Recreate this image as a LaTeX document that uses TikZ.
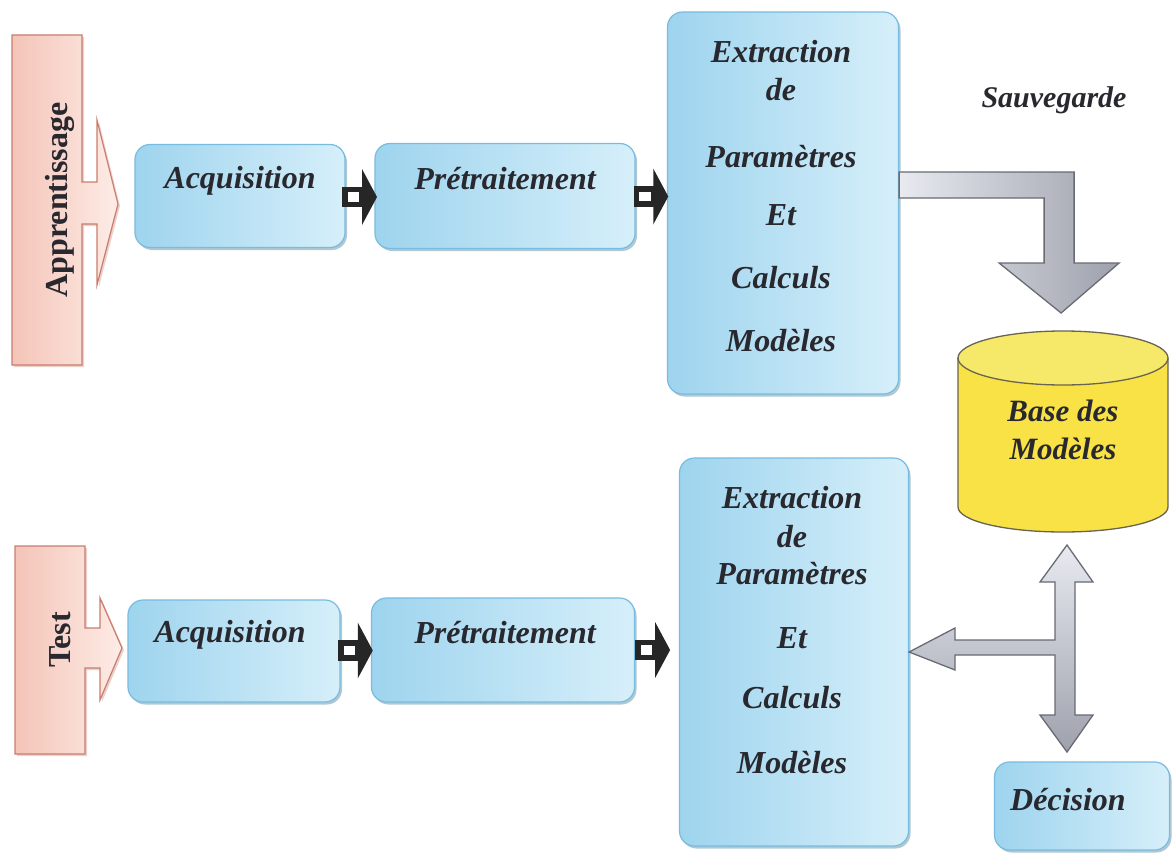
\documentclass[tikz,border=0pt]{standalone}
\usepackage{fontspec}
\setmainfont{Liberation Serif}
\usetikzlibrary{calc,shadows}
\definecolor{boxA}{RGB}{158,212,238}
\definecolor{boxB}{RGB}{214,239,250}
\definecolor{boxline}{RGB}{120,188,224}
\definecolor{pinkA}{RGB}{244,196,184}
\definecolor{pinkB}{RGB}{253,236,230}
\definecolor{pinkline}{RGB}{200,125,110}
\definecolor{greyA}{RGB}{232,234,240}
\definecolor{greyB}{RGB}{158,160,172}
\definecolor{greyline}{RGB}{105,107,116}
\definecolor{cylfill}{RGB}{248,226,70}
\definecolor{cyltop}{RGB}{246,232,105}
\definecolor{cylline}{RGB}{105,100,80}
\definecolor{txt}{RGB}{40,40,46}
\tikzset{
  bluebox/.style={draw=boxline, line width=1.2pt, rounded corners=15pt,
    left color=boxA, right color=boxB,
    drop shadow={opacity=0.45, shadow xshift=2pt, shadow yshift=-2.5pt, fill=boxline!70!black}},
  lbl/.style={font=\fontsize{32}{34}\selectfont\bfseries\itshape, text=txt, inner sep=0pt},
  side/.style={font=\fontsize{32}{34}\selectfont\bfseries, text=txt, rotate=90, inner sep=0pt},
  pinkshape/.style={draw=pinkline, line width=1.2pt, left color=pinkA, right color=pinkB,
    drop shadow={opacity=0.35, shadow xshift=2pt, shadow yshift=-2pt, fill=pinkline}},
  greyshape/.style={draw=greyline, line width=1.3pt, left color=greyA, right color=greyB},
  greyshapev/.style={draw=greyline, line width=1.3pt, top color=greyA, bottom color=greyB},
  darkhead/.style={fill=black!85},
  darkshaft/.style={draw=black!85, line width=5.5pt, fill=white},
  darkarrow/.pic={
    \fill[darkhead] (2,-28) -- (17,0) -- (2,28) -- cycle;
    \draw[darkshaft] (-15,-7.5) rectangle (2,7.5);
  }
}
\begin{document}
\begin{tikzpicture}[x=1pt,y=-1pt]
\useasboundingbox (0,0) rectangle (1173,867);
\fill[white] (0,0) rectangle (1173,867);

% side labels (pink arrows)
\path[pinkshape] (12,35) -- (82,35) -- (82,182) -- (97,182) -- (97,120) -- (118,204)
  -- (97,285) -- (97,224) -- (82,224) -- (82,365) -- (12,365) -- cycle;
\node[side] (app) at (60,200) {Apprentissage};
\path[pinkshape] (15,546) -- (85,546) -- (85,628) -- (100,628) -- (100,598) -- (122,648)
  -- (100,700) -- (100,668) -- (85,668) -- (85,754) -- (15,754) -- cycle;
\node[side] (test) at (60,640) {Test};

% top row boxes
\node[bluebox, minimum width=210pt, minimum height=103pt] (acq1) at (240,196) {};
\node[lbl] (acq1t) at (240,181) {Acquisition};
\node[bluebox, minimum width=260pt, minimum height=105pt] (pre1) at (505,196) {};
\node[lbl] (pre1t) at (505,179) {Prétraitement};
\node[bluebox, minimum width=231pt, minimum height=382pt] (ext1) at (783,203) {};
\node[lbl] (e1a) at (781,52) {Extraction};
\node[lbl] (e1b) at (781,90) {de};
\node[lbl] (e1c) at (781,157) {Paramètres};
\node[lbl] (e1d) at (781,215) {Et};
\node[lbl] (e1e) at (781,278) {Calculs};
\node[lbl] (e1f) at (781,341) {Modèles};

\pic at ($(acq1.east)!0.5!(pre1.west)+(0,1)$) {darkarrow};
\pic at ($(pre1.east)!0.5!(ext1.west)+(0,-3)$) {darkarrow};

% bottom row boxes
\node[bluebox, minimum width=212pt, minimum height=102pt] (acq2) at (234,651) {};
\node[lbl] (acq2t) at (230,635) {Acquisition};
\node[bluebox, minimum width=263pt, minimum height=104pt] (pre2) at (503,650) {};
\node[lbl] (pre2t) at (505,633) {Prétraitement};
\node[bluebox, minimum width=229pt, minimum height=388pt] (ext2) at (794,652) {};
\node[lbl] (e2a) at (792,498) {Extraction};
\node[lbl] (e2b) at (792,537) {de};
\node[lbl] (e2c) at (792,574) {Paramètres};
\node[lbl] (e2d) at (792,638) {Et};
\node[lbl] (e2e) at (792,698) {Calculs};
\node[lbl] (e2f) at (792,763) {Modèles};

\pic at ($(acq2.east)!0.5!(pre2.west)$) {darkarrow};
\pic at ($(pre2.east)+(18,0)$) {darkarrow};

% Sauvegarde arrow
\node[lbl, font=\fontsize{30}{32}\selectfont\bfseries\itshape] (sauv) at (1054,100) {Sauvegarde};
\path[greyshape] ($(ext1.east)+(0,-31)$) -- ++(175,0) -- ++(0,91) -- ++(45,0) -- ++(-58,50)
  -- ++(-62,-50) -- ++(45,0) -- ++(0,-65) -- ($(ext1.east)+(0,-5)$) -- cycle;

% cylinder
\fill[cylfill] (958,358) rectangle (1168,507);
\fill[cylfill] (1063,507) ellipse [x radius=105, y radius=25];
\draw[cylline, line width=1.3pt] (958,358) -- (958,507)
  arc[start angle=180, end angle=0, x radius=105, y radius=25] -- (1168,358);
\filldraw[fill=cyltop, draw=cylline, line width=1.3pt] (1063,358) ellipse [x radius=105, y radius=27];
\node[lbl, align=center, font=\fontsize{31}{38}\selectfont\bfseries\itshape] (base) at (1063,430) {Base des\\Modèles};

% T-shaped double arrow
\path[greyshapev] (1067,545) -- (1093,582) -- (1075,582) -- (1075,715) -- (1093,715)
  -- (1067,752) -- (1040,715) -- (1055,715) -- (1055,655) -- (955,655) -- (955,670)
  -- (ext2.east) -- (955,628) -- (955,640) -- (1055,640) -- (1055,582) -- (1040,582) -- cycle;

% decision
\node[bluebox, minimum width=175pt, minimum height=88pt] (dec) at (1082,806) {};
\node[lbl] (dect) at (1068,800) {Décision};
\end{tikzpicture}
\end{document}
